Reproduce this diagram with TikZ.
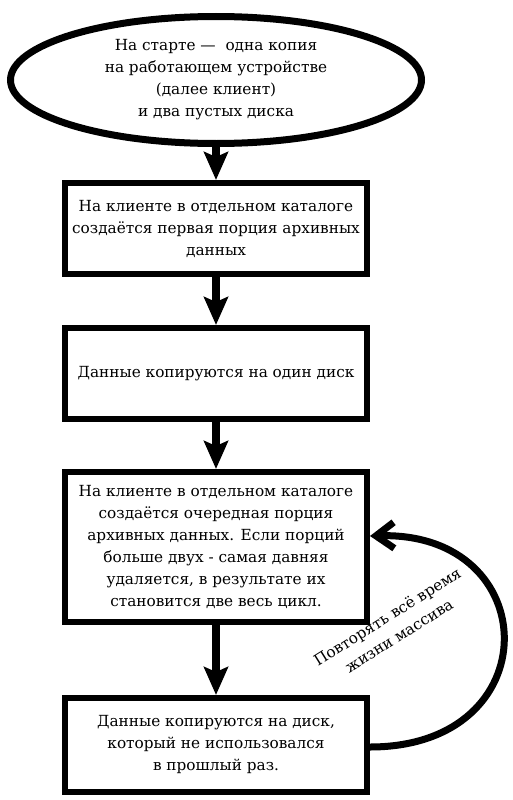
\documentclass[tikz,border=0pt]{standalone}
\usepackage{fontspec}
\setmainfont{DejaVu Serif}
\usetikzlibrary{shapes.geometric, arrows.meta, positioning}

\begin{document}
\begin{tikzpicture}[
    x=1pt, y=1pt,
    node distance=48pt,
    every node/.style={font=\fontsize{15.3}{22}\selectfont},
    box/.style={draw, rectangle, line width=6pt, minimum width=302pt, align=center},
    startnode/.style={draw, ellipse, line width=7pt, minimum width=411pt, minimum height=127pt, align=center},
    arrow/.style={line width=7.5pt, -{Stealth[length=28pt, width=24pt, inset=5pt]}},
    backarrow/.style={line width=7pt, -{Straight Barb[length=18pt, width=26pt]}}
]
\useasboundingbox (0,0) rectangle (512,-800);

\node (start) [startnode] at (216,-80) {На старте — \ одна копия\\на работающем устройстве\\(далее клиент)\\и два пустых диска};
\node (first) [box, minimum height=91pt, below=33pt of start] {На клиенте в отдельном каталоге\\создаётся первая порция архивных\\данных};
\node (copy) [box, minimum height=91pt, below=48pt of first] {Данные копируются на один диск};
\node (next) [box, minimum height=150pt, below=47pt of copy] {На клиенте в отдельном каталоге\\создаётся очередная порция\\архивных данных. Если порций\\больше двух - самая давняя\\удаляется, в результате их\\становится две весь цикл.};
\node (copyagain) [box, minimum height=94pt, below=70pt of next] {Данные копируются на диск,\\который не использовался\\в прошлый раз.};

\draw [arrow] (start) -- (first);
\draw [arrow] (first) -- (copy);
\draw [arrow] (copy) -- (next);
\draw [arrow] (next) -- (copyagain);
\draw [backarrow] ([yshift=-2pt]copyagain.east) .. controls +(180,0) and +(175,5) .. ([yshift=11pt]next.east);

% label of the loop
\node (repeat) [rotate=32, align=center] at (393,-626) {Повторять всё время\\жизни массива};
\end{tikzpicture}
\end{document}
